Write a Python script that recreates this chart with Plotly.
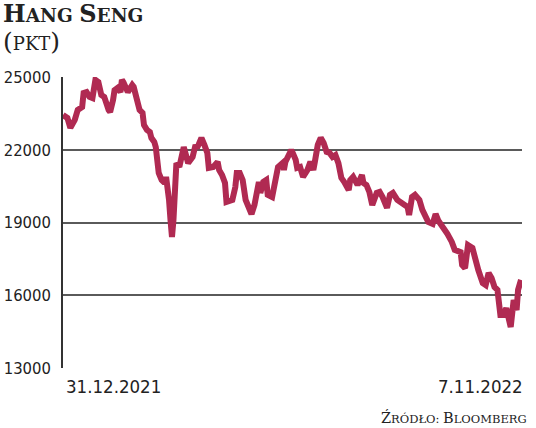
import pandas as pd
import plotly.graph_objects as go

# ---- data ----
start_date = "2021-12-31"
day_offsets = [0, 3, 5, 8, 10, 13, 14, 16, 18, 20, 22, 24, 26, 28, 31, 32, 34, 35, 37, 39,
               40, 41, 44, 47, 48, 49, 50, 51, 52, 54, 55, 57, 59, 60, 62, 63, 64, 65, 67, 69,
               70, 71, 72, 73, 74, 75, 76, 77, 79, 81, 82, 85, 88, 90, 91, 92, 94, 96, 98, 99,
               102, 105, 106, 108, 110, 111, 115, 117, 118, 120, 122, 124, 126, 128, 130, 132, 133, 134, 136, 138,
               139, 142, 144, 146, 149, 150, 151, 153, 155, 156, 158, 159, 161, 163, 166, 168, 170, 171, 173, 175,
               177, 179, 181, 183, 185, 187, 189, 191, 194, 195, 197, 200, 202, 203, 204, 206, 208, 210, 213, 215,
               217, 220, 222, 224, 227, 229, 231, 234, 235, 237, 239, 242, 244, 246, 248, 251, 253, 255, 257, 259,
               261, 264, 266, 270, 271, 273, 275, 278, 280, 282, 285, 287, 289, 291, 293, 295, 297, 299, 301, 304,
               306, 308, 309, 311]
hang_seng = [23430, 23310, 22900, 23230, 23640, 23760, 24340, 24380, 24180, 24130, 24880, 24790, 24260, 24180, 23640, 23560, 24050, 24460, 24550, 24380,
             24880, 24790, 24380, 24670, 24590, 24340, 24130, 23930, 23640, 23520, 23020, 22820, 22730, 22490, 22320, 22110, 21580, 21040, 20750, 20630,
             20880, 20460, 19930, 19100, 18400, 19100, 20460, 21450, 21290, 21870, 22110, 21450, 21700, 22200, 22070, 22200, 22490, 22200, 21870, 21250,
             21290, 21500, 21170, 20960, 20630, 19850, 19930, 20460, 21040, 21040, 20750, 19930, 19600, 19350, 19720, 20420, 20670, 20220, 20670, 20750,
             20140, 20050, 20550, 21290, 21450, 21170, 21500, 21780, 21990, 21870, 21580, 21250, 21290, 20880, 21170, 21500, 21170, 21500, 22200, 22490,
             22280, 21910, 21870, 21700, 21780, 21450, 20840, 20670, 20340, 20750, 20880, 20550, 20880, 20960, 20630, 20550, 20260, 19720, 20220, 20260,
             20050, 19600, 20140, 20220, 19930, 19850, 19800, 19640, 19310, 20050, 20140, 19930, 19520, 19230, 19020, 18940, 19350, 19060, 18900, 18690,
             18530, 18200, 17870, 17780, 17250, 17120, 18070, 17950, 17370, 17040, 16500, 16420, 16920, 16710, 16340, 16220, 15190, 15190, 15470, 14690,
             15800, 15390, 16220, 16630]
y_ticks = [13000, 16000, 19000, 22000, 25000]
x_labels = ["31.12.2021", "7.11.2022"]
title_text = "<span style='font-size:24px'>H</span>ANG <span style='font-size:24px'>S</span>ENG"
unit_text = "<span style='font-size:25px'>(</span>PKT<span style='font-size:25px'>)</span>"
source_text = "<span style='font-size:14.5px'>Ź</span>RÓDŁO: <span style='font-size:14.5px'>B</span>LOOMBERG"

dates = pd.to_datetime(start_date) + pd.to_timedelta(day_offsets, unit="D")

LINE = "#B02A52"
GRID = "#5a5a5a"
SANS = "DejaVu Sans Condensed"

fig = go.Figure()
fig.add_trace(go.Scatter(x=dates, y=hang_seng, mode="lines",
                         line=dict(color=LINE, width=6), hoverinfo="skip"))

x0 = dates[0]
x1 = dates[-1] + pd.Timedelta(hours=16)

fig.update_layout(
    width=536, height=428,
    margin=dict(l=63, r=14, t=77, b=60, autoexpand=False),
    paper_bgcolor="white", plot_bgcolor="white",
    showlegend=False,
    xaxis=dict(range=[x0, x1], showgrid=False, showticklabels=False, ticks="",
               zeroline=False, showline=False, automargin=False),
    yaxis=dict(range=[y_ticks[0], y_ticks[-1]], tickvals=y_ticks,
               ticktext=[str(v) for v in y_ticks], automargin=False,
               showgrid=True, gridcolor=GRID, gridwidth=1.5,
               zeroline=False, showline=True, linecolor="#333", linewidth=1.5,
               ticks="", ticklabelstandoff=7,
               tickfont=dict(family=SANS, size=16.5, color="#222")),
    font=dict(family=SANS, color="#222"),
)

annotations = [
    dict(text=title_text, xref="paper", yref="paper", x=-0.134, y=1.276,
         xanchor="left", yanchor="top", showarrow=False,
         font=dict(family="DejaVu Serif", size=18.5, color="#222", weight="bold")),
    dict(text=unit_text, xref="paper", yref="paper", x=-0.134, y=1.178,
         xanchor="left", yanchor="top", showarrow=False,
         font=dict(family="DejaVu Serif", size=18, color="#222")),
    dict(text=x_labels[0], xref="x", yref="paper", x=x0, y=-0.02,
         xanchor="left", yanchor="top", showarrow=False, xshift=1,
         font=dict(family=SANS, size=18.5, color="#222")),
    dict(text=x_labels[1], xref="x", yref="paper", x=x1, y=-0.02,
         xanchor="right", yanchor="top", showarrow=False, xshift=3,
         font=dict(family=SANS, size=18.5, color="#222")),
    dict(text=source_text, xref="paper", yref="paper", x=1.016, y=-0.135,
         xanchor="right", yanchor="top", showarrow=False,
         font=dict(family="DejaVu Serif", size=11.5, color="#222")),
]
fig.update_layout(annotations=annotations)

fig.write_html("out.html", config={"displayModeBar": False},
               post_script="document.body.style.margin='0';")
